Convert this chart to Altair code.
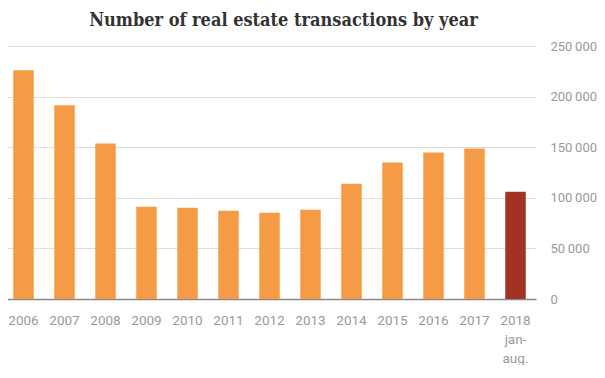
import altair as alt
import pandas as pd

years = ["2006", "2007", "2008", "2009", "2010", "2011", "2012", "2013",
         "2014", "2015", "2016", "2017", "2018|jan-|aug."]
transactions = [226000, 191400, 153700, 91200, 90200, 87300, 85300, 88300,
                114000, 134900, 144800, 148700, 106100]
kind = ["full"] * 12 + ["partial"]

df = pd.DataFrame({"year": years, "value": transactions, "kind": kind})

label_font = "Roboto"

chart = alt.Chart(df).mark_bar().encode(
    x=alt.X("year:N", sort=years, title=None,
            scale=alt.Scale(paddingInner=0.5, paddingOuter=0.25),
            axis=alt.Axis(labelAngle=0, labelExpr="split(datum.label, '|')",
                          labelFont=label_font, labelFontSize=13.5, labelColor="#999999",
                          labelLineHeight=19, labelPadding=14, ticks=False,
                          domainColor="#888888", domainWidth=1.5)),
    y=alt.Y("value:Q", title=None,
            scale=alt.Scale(domain=[0, 250000]),
            axis=alt.Axis(orient="right", values=[0, 50000, 100000, 150000, 200000, 250000],
                          labelExpr="replace(format(datum.value, ','), /,/g, '\u2009')",
                          labelFont=label_font, labelFontSize=13, labelColor="#999999",
                          labelAlign="left", labelPadding=14, ticks=False, domain=False,
                          gridColor="#dddddd", gridWidth=1)),
    color=alt.Color("kind:N", legend=None,
                    scale=alt.Scale(domain=["full", "partial"], range=["#f59b45", "#a23222"])),
).properties(
    width=533, height=253,
    padding={"left": -5, "top": 4, "right": 0, "bottom": 0},
    title=alt.TitleParams("Number of real estate transactions by year",
                          font="DejaVu Serif Condensed", fontSize=18, fontWeight="bold",
                          color="#333333", anchor="middle", offset=10, dx=14),
).configure_view(stroke=None)

chart.save("out.html", embed_options={"renderer": "svg", "actions": False})
